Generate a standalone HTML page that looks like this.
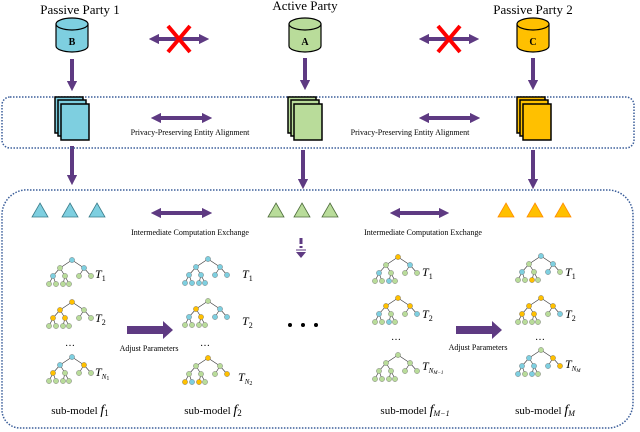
<!DOCTYPE html>
<html><head><meta charset="utf-8"><style>
body{margin:0;background:#fff}
svg{display:block;font-family:"Liberation Serif",serif}
</style></head><body>
<svg id="s" width="640" height="432" viewBox="0 0 640 432" xmlns="http://www.w3.org/2000/svg">
<defs>
<marker id="ah" markerWidth="2.6" markerHeight="2.6" refX="1.3" refY="1.3" orient="auto-start-reverse" markerUnits="strokeWidth"><path d="M0,0L2.6,1.3L0,2.6z" fill="#5e3a82"/></marker>
</defs>
<g font-size="13" text-anchor="middle" fill="#000">
<text x="80" y="14">Passive Party 1</text>
<text x="305" y="10">Active Party</text>
<text x="533" y="14">Passive Party 2</text>
</g>
<!-- cylinders -->
<g stroke="#000" stroke-width="1.2">
<path d="M56,24v22a16,6 0 0 0 32,0v-22z" fill="#7ecfe0"/><ellipse cx="72" cy="24" rx="16" ry="6" fill="#7ecfe0"/>
<path d="M289,24v22a16,6 0 0 0 32,0v-22z" fill="#b9dc9a"/><ellipse cx="305" cy="24" rx="16" ry="6" fill="#b9dc9a"/>
<path d="M517,24v22a16,6 0 0 0 32,0v-22z" fill="#ffc000"/><ellipse cx="533" cy="24" rx="16" ry="6" fill="#ffc000"/>
</g>
<g font-size="10" font-weight="bold" text-anchor="middle"><text x="72" y="45">B</text><text x="305" y="45">A</text><text x="533" y="45">C</text></g>
<!-- arrows -->
<g stroke="#5e3a82" stroke-width="4" fill="none">
<line x1="154" y1="39" x2="204" y2="39" marker-end="url(#ah)" marker-start="url(#ah)"/>
<line x1="424" y1="39" x2="474" y2="39" marker-end="url(#ah)" marker-start="url(#ah)"/>
<line x1="72" y1="59" x2="72" y2="86" marker-end="url(#ah)"/>
<line x1="305" y1="58" x2="305" y2="85" marker-end="url(#ah)"/>
<line x1="533" y1="58" x2="533" y2="85" marker-end="url(#ah)"/>
<line x1="156" y1="118" x2="207" y2="118" marker-end="url(#ah)" marker-start="url(#ah)"/>
<line x1="424" y1="118" x2="475" y2="118" marker-end="url(#ah)" marker-start="url(#ah)"/>
<line x1="72" y1="146" x2="72" y2="180" marker-end="url(#ah)"/>
<line x1="303" y1="150" x2="303" y2="184" marker-end="url(#ah)"/>
<line x1="533" y1="150" x2="533" y2="184" marker-end="url(#ah)"/>
<line x1="156" y1="213" x2="207" y2="213" marker-end="url(#ah)" marker-start="url(#ah)"/>
<line x1="395" y1="213" x2="444" y2="213" marker-end="url(#ah)" marker-start="url(#ah)"/>
</g>
<g stroke="#ff0000" stroke-width="4"><line x1="168" y1="26" x2="190" y2="52"/><line x1="190" y1="26" x2="168" y2="52"/>
<line x1="438" y1="26" x2="460" y2="52"/><line x1="460" y1="26" x2="438" y2="52"/></g>
<!-- dotted boxes -->
<rect x="2" y="97" width="632" height="51" rx="8" fill="none" stroke="#3b5e9a" stroke-width="1.5" stroke-dasharray="1.5,1.5"/>
<path d="M30,190H608a25,25 0 0 1 25,25V403a25,25 0 0 1-25,25H20a18,18 0 0 1-18-18V215a25,25 0 0 1 28-25z" fill="none" stroke="#3b5e9a" stroke-width="1.5" stroke-dasharray="1.5,1.5"/>
<!-- docs -->
<g stroke="#000" stroke-width="1.5">
<rect x="55" y="97" width="28" height="36" fill="#7ecfe0"/><rect x="58" y="100" width="28" height="36" fill="#7ecfe0"/><rect x="61" y="104" width="28" height="36" fill="#7ecfe0"/>
<rect x="288" y="97" width="28" height="36" fill="#b9dc9a"/><rect x="291" y="100" width="28" height="36" fill="#b9dc9a"/><rect x="294" y="104" width="28" height="36" fill="#b9dc9a"/>
<rect x="517" y="97" width="28" height="36" fill="#ffc000"/><rect x="520" y="100" width="28" height="36" fill="#ffc000"/><rect x="523" y="104" width="28" height="36" fill="#ffc000"/>
</g>
<g font-size="8" text-anchor="middle">
<text x="190" y="135">Privacy-Preserving Entity Alignment</text>
<text x="410" y="135">Privacy-Preserving Entity Alignment</text>
<text x="190" y="235">Intermediate Computation Exchange</text>
<text x="423" y="235">Intermediate Computation Exchange</text>
<text x="149" y="351">Adjust Parameters</text>
<text x="478" y="350">Adjust Parameters</text>
</g>
<!-- triangles -->
<g stroke-width="0.8">
<path d="M40,203l8,14h-16z M70,203l8,14h-16z M97,203l8,14h-16z" fill="#7ecfe0" stroke="#3a7c8a"/>
<path d="M276,203l8,14h-16z M302,203l8,14h-16z M330,203l8,14h-16z" fill="#b9dc9a" stroke="#4c6b3a"/>
<path d="M506,203l8,14h-16z M535,203l8,14h-16z M563,203l8,14h-16z" fill="#ffc000" stroke="#ff8a00"/>
</g>
<!-- dashed down arrow -->
<g stroke="#5e3a82" stroke-width="3"><line x1="301" y1="238" x2="301" y2="244"/><line x1="301" y1="246" x2="301" y2="248"/></g>
<line x1="296" y1="250" x2="306" y2="250" stroke="#5e3a82" stroke-width="1"/>
<path d="M296,252h10l-5,6z" fill="#5e3a82"/>
<!-- adjust arrows -->
<path d="M127,326h36v-5l10,9-10,9v-5h-36z" fill="#5e3a82"/>
<path d="M456,326h36v-5l10,9-10,9v-5h-36z" fill="#5e3a82"/>
<!-- big dots -->
<g fill="#000"><circle cx="290" cy="325" r="2"/><circle cx="303" cy="325" r="2"/><circle cx="316" cy="325" r="2"/></g>
<g font-size="10" text-anchor="middle"><text x="70" y="346">…</text><text x="205" y="346">…</text><text x="396" y="340">…</text><text x="540" y="340">…</text></g>
<g font-size="12" font-style="italic">
<text x="95" y="278">T<tspan font-size="8" dy="3" font-style="normal">1</tspan></text>
<text x="95" y="322">T<tspan font-size="8" dy="3" font-style="normal">2</tspan></text>
<text x="95" y="376">T<tspan font-size="7" dy="3">N</tspan><tspan font-size="6" dy="1" font-style="normal">1</tspan></text>
<text x="242" y="278">T<tspan font-size="8" dy="3" font-style="normal">1</tspan></text>
<text x="242" y="325">T<tspan font-size="8" dy="3" font-style="normal">2</tspan></text>
<text x="238" y="381">T<tspan font-size="7" dy="3">N</tspan><tspan font-size="6" dy="1" font-style="normal">2</tspan></text>
<text x="422" y="276">T<tspan font-size="8" dy="3" font-style="normal">1</tspan></text>
<text x="422" y="318">T<tspan font-size="8" dy="3" font-style="normal">2</tspan></text>
<text x="422" y="370">T<tspan font-size="7" dy="3">N<tspan font-size="5" dy="1">M−1</tspan></tspan></text>
<text x="565" y="276">T<tspan font-size="8" dy="3" font-style="normal">1</tspan></text>
<text x="565" y="318">T<tspan font-size="8" dy="3" font-style="normal">2</tspan></text>
<text x="565" y="368">T<tspan font-size="7" dy="3">N<tspan font-size="5" dy="1">M</tspan></tspan></text>
</g>
<g font-size="11" text-anchor="middle">
<text x="80" y="414">sub-model <tspan font-style="italic" font-size="14">f</tspan><tspan font-size="9" dy="2">1</tspan></text>
<text x="213" y="414">sub-model <tspan font-style="italic" font-size="14">f</tspan><tspan font-size="9" dy="2">2</tspan></text>
<text x="415" y="414">sub-model <tspan font-style="italic" font-size="14">f</tspan><tspan font-size="8" dy="2" font-style="italic">M−1</tspan></text>
<text x="545" y="414">sub-model <tspan font-style="italic" font-size="14">f</tspan><tspan font-size="8" dy="2" font-style="italic">M</tspan></text>
</g>
<g id="trees"></g>
</svg>
<script>
var C={b:"#7ecfe0",g:"#b9dc9a",o:"#ffc000"};
var g=document.getElementById("trees"),ns="http://www.w3.org/2000/svg";
function el(t,a){var e=document.createElementNS(ns,t);for(var k in a)e.setAttribute(k,a[k]);g.appendChild(e);}
function tree(x,y,cols){
 var P=[[x,y],[x-12,y+8],[x+12,y+8],[x-19,y+16],[x-7,y+16],[x+7,y+16],[x+19,y+16],[x-23,y+24],[x-16,y+24],[x-9,y+24],[x-3,y+24]];
 var par=[ -1,0,0,1,1,2,2,3,3,4,4];
 for(var i=1;i<P.length;i++)el("line",{x1:P[par[i]][0],y1:P[par[i]][1],x2:P[i][0],y2:P[i][1],stroke:"#333","stroke-width":"0.6"});
 for(var i=0;i<P.length;i++)el("circle",{cx:P[i][0],cy:P[i][1],r:"2.6",fill:C[cols[i]],stroke:"#666","stroke-width":"0.4"});
}
tree(72,260,"bgbbggggggg");
tree(72,302,"oogoogggggg");
tree(72,357,"bbooggggggg");
tree(208,259,"bbbbbbbbbbb");
tree(208,301,"gobbobbgggg");
tree(208,358,"ogggggoobog");
tree(398,257,"ogbbgggggbg");
tree(398,298,"ooobggbggbg");
tree(398,355,"ggggggggggg");
tree(541,256,"bgbbgbgggog");
tree(541,298,"ooooogbgggg");
tree(541,350,"gbobbbobgbg");
</script>
</body></html>
